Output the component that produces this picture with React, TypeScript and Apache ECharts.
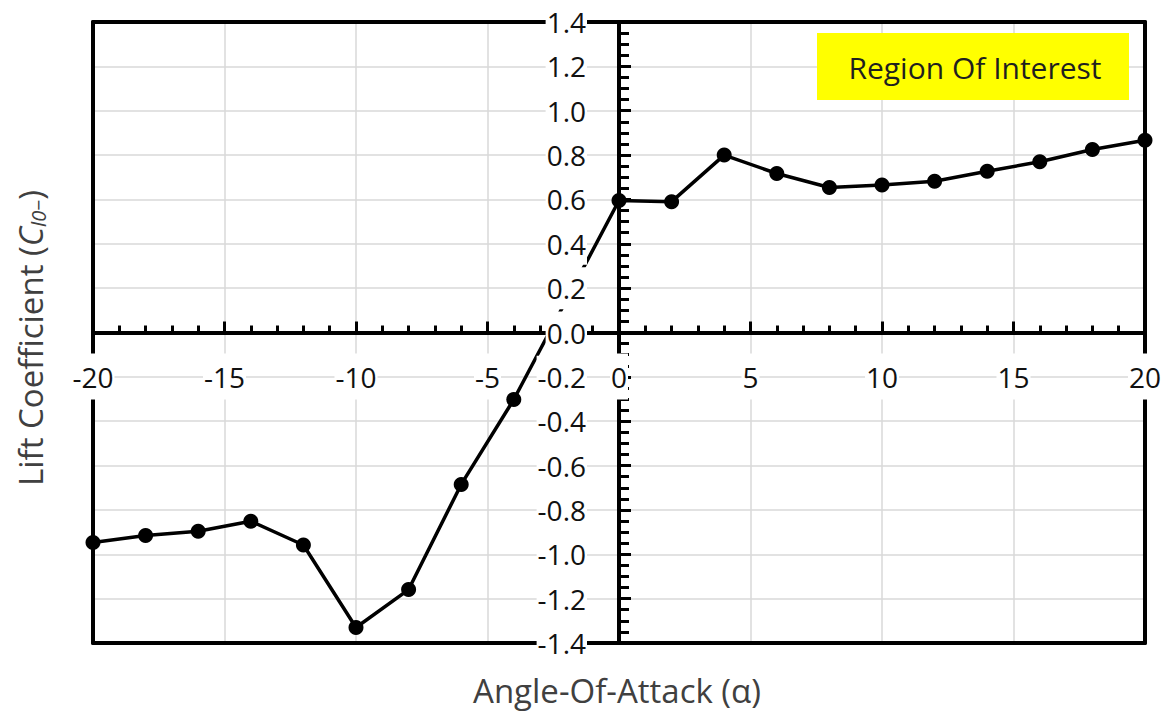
import React, { useEffect, useRef } from "react";
import * as echarts from "echarts";

// Angle of attack (deg) and lift coefficient values
const alphaValues = [-20, -18, -16, -14, -12, -10, -8, -6, -4, 0, 2, 4, 6, 8, 10, 12, 14, 16, 18, 20];
const liftValues = [
  -0.947, -0.915, -0.896, -0.851, -0.958, -1.33, -1.159, -0.685, -0.302,
  0.595, 0.59, 0.8, 0.717, 0.654, 0.665, 0.682, 0.727, 0.77, 0.825, 0.867,
];

// Axis ranges / tick spacing
const xRange = [-20, 20];
const xInterval = 5;
const yRange = [-1.4, 1.4];
const yInterval = 0.2;

const xTitle = "Angle-Of-Attack (α)";
const yTitleMain = "Lift Coefficient (";
const yTitleSymbol = "C";
const yTitleSub = "l0−";
const yTitleEnd = ")";
const boxLabel = "Region Of Interest";

const FONT = "'Open Sans', 'Noto Sans', sans-serif";
const GRID = { left: 93, right: 27, top: 22, bottom: 74 };
const W = 1172;
const H = 717;

export default function App() {
  const ref = useRef<HTMLDivElement>(null);

  useEffect(() => {
    document.body.style.margin = "0";
    if (!ref.current) return;
    const chart = echarts.init(ref.current, undefined, { renderer: "svg" });

    const points = alphaValues.map((a, i) => [a, liftValues[i]]);

    const baseX = {
      type: "value",
      min: xRange[0],
      max: xRange[1],
      interval: xInterval,
    };
    const baseY = {
      type: "value",
      min: yRange[0],
      max: yRange[1],
      interval: yInterval,
    };
    const hidden = {
      axisTick: { show: false },
      minorTick: { show: false },
      axisLabel: { show: false },
    };
    const gridLineStyle = { color: "#d9d9d9", width: 1.5 };
    const frameLine = { show: true, onZero: false, lineStyle: { color: "#000", width: 4 } };

    // 0: axis lines + ticks through zero
    const lineAxisX = {
      ...baseX,
      position: "bottom",
      z: 4,
      axisLine: {
        show: true,
        onZero: true,
        onZeroAxisIndex: 0,
        lineStyle: { color: "#000", width: 4 },
      },
      axisTick: { show: true, inside: true, length: 11, lineStyle: { color: "#000", width: 3 } },
      minorTick: { show: true, splitNumber: 5, length: 7, lineStyle: { color: "#000", width: 3 } },
      axisLabel: { show: false },
      splitLine: { show: false },
    };
    const lineAxisY = {
      ...baseY,
      position: "left",
      z: 4,
      axisLine: {
        show: true,
        onZero: true,
        onZeroAxisIndex: 0,
        lineStyle: { color: "#000", width: 4 },
      },
      axisTick: { show: true, inside: true, length: 12, lineStyle: { color: "#000", width: 3 } },
      minorTick: { show: true, splitNumber: 4, length: 10, lineStyle: { color: "#000", width: 3 } },
      axisLabel: { show: false },
      splitLine: { show: false },
    };
    // 1: labels only, shifted onto the zero lines
    const labelAxisX = {
      ...baseX,
      position: "bottom",
      offset: 0,
      z: 20,
      axisLine: { show: false, onZero: false },
      ...hidden,
      splitLine: { show: false },
      axisLabel: {
        show: true,
        margin: 21,
        fontSize: 28,
        fontFamily: FONT,
        color: "#111111",
        backgroundColor: "#ffffff",
        padding: [9, 1, 9, 1],
        formatter: (v: number) => String(Math.round(v)),
      },
    };
    const labelAxisY = {
      ...baseY,
      position: "left",
      offset: 0,
      z: 20,
      axisLine: { show: false, onZero: false },
      ...hidden,
      splitLine: { show: false },
      axisLabel: {
        show: true,
        margin: 32,
        fontSize: 28,
        fontFamily: FONT,
        color: "#111111",
        backgroundColor: "#ffffff",
        padding: [7, 1, 7, 1],
        formatter: (v: number) => (Math.abs(v) < 1e-9 ? "0.0" : v.toFixed(1)),
      },
    };
    // 2: gridlines only, underneath everything
    const gridAxisX = {
      ...baseX,
      position: "bottom",
      z: 0,
      axisLine: { show: false, onZero: false },
      ...hidden,
      splitLine: { show: true, lineStyle: gridLineStyle },
    };
    const gridAxisY = {
      ...baseY,
      position: "left",
      z: 0,
      axisLine: { show: false, onZero: false },
      ...hidden,
      splitLine: { show: true, lineStyle: gridLineStyle },
    };
    // 3, 4: plot-area frame
    const frameTop = { ...baseX, position: "top", z: 4, axisLine: frameLine, ...hidden, splitLine: { show: false } };
    const frameBottom = { ...baseX, position: "bottom", z: 4, axisLine: frameLine, ...hidden, splitLine: { show: false } };
    const frameLeft = { ...baseY, position: "left", z: 4, axisLine: frameLine, ...hidden, splitLine: { show: false } };
    const frameRight = { ...baseY, position: "right", z: 4, axisLine: frameLine, ...hidden, splitLine: { show: false } };

    chart.setOption({
      animation: false,
      backgroundColor: "#ffffff",
      grid: {
        ...GRID,
        show: false,
        containLabel: false,
      },
      xAxis: [lineAxisX, labelAxisX, gridAxisX, frameTop, frameBottom],
      yAxis: [lineAxisY, labelAxisY, gridAxisY, frameLeft, frameRight],
      series: [
        {
          type: "line",
          xAxisIndex: 0,
          yAxisIndex: 0,
          data: points,
          symbol: "circle",
          symbolSize: 15,
          z: 5,
          itemStyle: { color: "#000" },
          lineStyle: { color: "#000", width: 3.5 },
        },
      ],
      graphic: [
        {
          type: "rect",
          z: 30,
          shape: { x: 817, y: 33, width: 312, height: 67 },
          style: { fill: "#ffff00" },
        },
        {
          type: "text",
          z: 31,
          x: 975,
          y: 67,
          style: {
            text: boxLabel,
            fontSize: 30,
            fontFamily: FONT,
            fill: "#1f1f1f",
            align: "center",
            verticalAlign: "middle",
          },
        },
        {
          type: "text",
          z: 31,
          x: 617,
          y: 690,
          style: {
            text: xTitle,
            fontSize: 33,
            fontFamily: FONT,
            fill: "#404040",
            align: "center",
            verticalAlign: "middle",
          },
        },
        {
          type: "text",
          z: 31,
          x: 30,
          y: 338,
          rotation: Math.PI / 2,
          style: {
            text: `${yTitleMain}{c|${yTitleSymbol}}{s|${yTitleSub}}${yTitleEnd}`,
            fontSize: 33,
            fontFamily: FONT,
            fill: "#404040",
            align: "center",
            verticalAlign: "middle",
            rich: {
              c: { fontSize: 33, fontStyle: "italic", fontFamily: FONT, fill: "#404040" },
              s: {
                fontSize: 20,
                fontStyle: "italic",
                fontFamily: FONT,
                fill: "#404040",
                padding: [17, 0, 0, 0],
              },
            },
          },
        },
      ],
    });

    // Move the label-only axes onto the zero lines of the main axes
    const origin = chart.convertToPixel({ xAxisIndex: 0, yAxisIndex: 0 }, [0, 0]) as number[];
    const bottomY = H - GRID.bottom;
    const leftX = GRID.left;
    chart.setOption({
      xAxis: [{}, { offset: origin[1] - bottomY }, {}, {}, {}],
      yAxis: [{}, { offset: leftX - origin[0] }, {}, {}, {}],
    });

    return () => chart.dispose();
  }, []);

  return <div ref={ref} style={{ width: W, height: H }} />;
}
